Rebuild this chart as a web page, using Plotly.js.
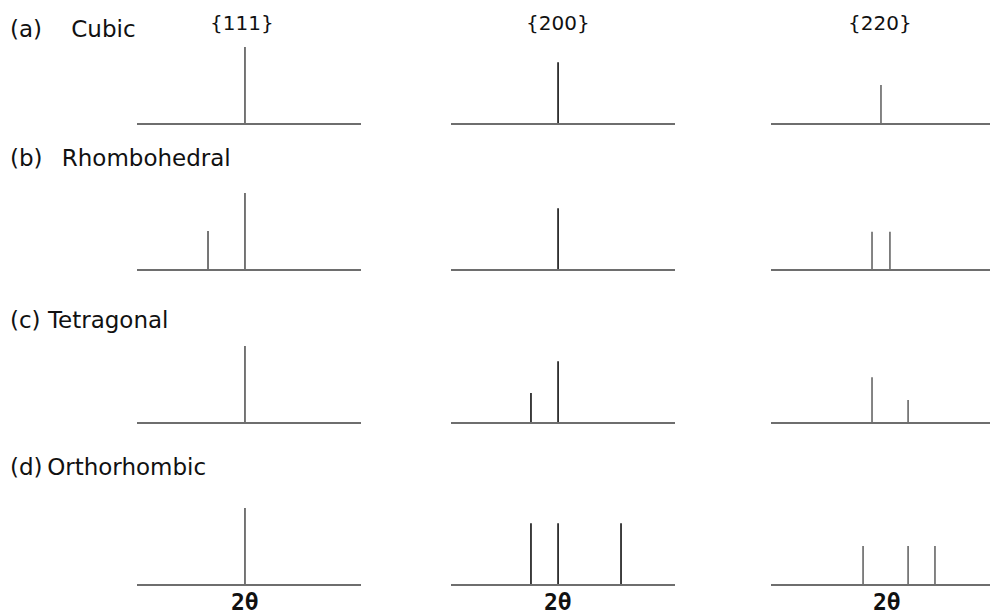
<!DOCTYPE html>
<html>
<head>
<meta charset="utf-8">
<script src="https://cdn.plot.ly/plotly-3.0.1.min.js"></script>
<style>html,body{margin:0;padding:0;background:#fff;}#chart{width:992px;height:615px;}</style>
</head>
<body>
<div id="chart"></div>
<script>
// ---- data ----
const reflections = ['{111}', '{200}', '{220}'];
const tags = ['(a)\u00A0\u00A0\u00A0\u00A0', '(b)\u00A0\u00A0\u2009', '(c)\u00A0', '(d)\u2009'];
const systems = ['Cubic', 'Rhombohedral', 'Tetragonal', 'Orthorhombic'];
const xLabel = '2θ';

// peak positions (relative 2θ within each window, 0-100) and relative intensities
const cubicPos  = [[48.2], [47.8], [49.1]];
const cubicInt  = [[100], [80], [50]];
const rhomboPos = [[31.7, 48.2], [47.8], [45.1, 53.1]];
const rhomboInt = [[50, 100], [80], [49, 49]];
const tetraPos  = [[48.2], [35.7, 47.8], [45.1, 61.2]];
const tetraInt  = [[100], [38, 80], [59, 29]];
const orthoPos  = [[48.2], [35.7, 47.8, 75.9], [41.1, 61.2, 73.2]];
const orthoInt  = [[100], [80, 80, 80], [50, 50, 50]];

const allPos = [cubicPos, rhomboPos, tetraPos, orthoPos];
const allInt = [cubicInt, rhomboInt, tetraInt, orthoInt];

// ---- layout geometry (pixels) ----
const W = 992, H = 615;
const colX0 = [137, 451, 771];
const panelW = 224;
const rowBase = [123, 269, 422, 584];
const panelH = 90;
const unitPx = 76 / 100;
const stickColors = ['#555555', '#111111', '#666666'];
const txtFont = 'DejaVu Sans, Liberation Sans, Arial, sans-serif';

const traces = [];
const layout = {
  width: W, height: H,
  margin: {l: 0, r: 0, t: 0, b: 0},
  paper_bgcolor: '#ffffff', plot_bgcolor: 'rgba(0,0,0,0)',
  showlegend: false,
  font: {family: txtFont, size: 20, color: '#111'},
  annotations: []
};

let k = 0;
for (let r = 0; r < 4; r++) {
  for (let c = 0; c < 3; c++) {
    k++;
    const sfx = (k === 1 ? '' : String(k));
    let x0 = colX0[c], x1 = colX0[c] + panelW;
    let xmax = 100;
    if (x1 > W - 2) { xmax = 100 * (W - 2 - x0) / panelW; x1 = W - 2; }
    layout['xaxis' + sfx] = {
      domain: [x0 / W, x1 / W], range: [0, xmax], anchor: 'y' + sfx,
      showgrid: false, zeroline: false, showticklabels: false, ticks: '',
      showline: true, linecolor: '#6e6e6e', linewidth: 2, fixedrange: true
    };
    const yb = rowBase[r];
    layout['yaxis' + sfx] = {
      domain: [1 - yb / H, 1 - (yb - panelH) / H], range: [0, panelH / unitPx],
      anchor: 'x' + sfx,
      showgrid: false, zeroline: false, showticklabels: false, ticks: '',
      showline: false, fixedrange: true
    };
    const xs = [], ys = [];
    allPos[r][c].forEach((p, i) => {
      xs.push(p, p, null);
      ys.push(0, allInt[r][c][i], null);
    });
    traces.push({
      type: 'scatter', mode: 'lines', x: xs, y: ys,
      xaxis: 'x' + sfx, yaxis: 'y' + sfx,
      line: {color: stickColors[c], width: 1.6}, hoverinfo: 'skip', cliponaxis: false
    });
  }
}

// column headers
const headerX = [242, 558, 880];
reflections.forEach((t, c) => {
  layout.annotations.push({
    text: t, xref: 'paper', yref: 'paper', x: headerX[c] / W, y: 1 - 23 / H,
    xanchor: 'center', yanchor: 'middle', showarrow: false,
    font: {family: txtFont, size: 20, color: '#111'}
  });
});

// row labels
const rowLabelY = [29, 158, 320, 467];
systems.forEach((s, r) => {
  layout.annotations.push({
    text: tags[r] + s, xref: 'paper', yref: 'paper', x: 8 / W, y: 1 - rowLabelY[r] / H,
    xanchor: 'left', yanchor: 'middle', showarrow: false,
    font: {family: txtFont, size: 23, color: '#111'}
  });
});

// bottom axis labels
const bottomX = [245, 558, 887];
bottomX.forEach((bx) => {
  layout.annotations.push({
    text: '<b>' + xLabel + '</b>', xref: 'paper', yref: 'paper', x: bx / W, y: 1 - 602 / H,
    xanchor: 'center', yanchor: 'middle', showarrow: false,
    font: {family: 'DejaVu Sans Mono, monospace', size: 23, color: '#111'}
  });
});

Plotly.newPlot('chart', traces, layout, {displayModeBar: false, staticPlot: true});
</script>
</body>
</html>
